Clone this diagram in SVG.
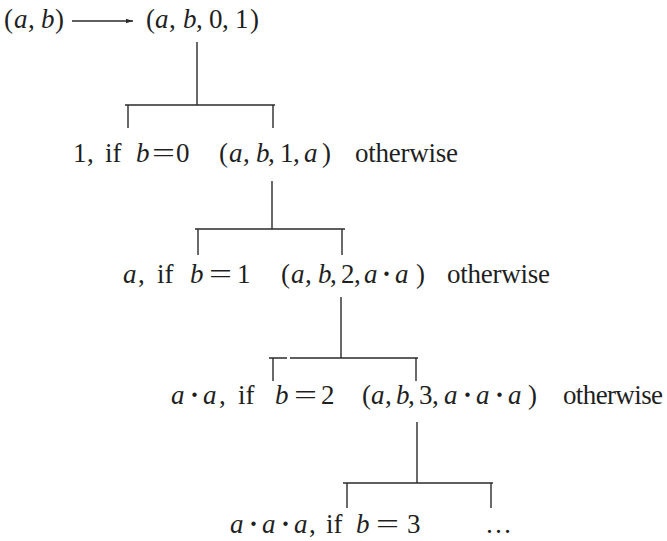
<svg xmlns="http://www.w3.org/2000/svg" width="667" height="541" viewBox="0 0 667 541">
<style>
.t{font-family:"Liberation Serif",Tinos,"Times New Roman","DejaVu Serif",serif;font-size:27px;fill:#1f1f1f}
.i{font-style:italic}
.d{font-weight:bold}
.c{stroke:#2b2b2b;stroke-width:1.4;fill:none}
</style>
<defs>
<marker id="ah" markerWidth="8" markerHeight="6" refX="7" refY="3" orient="auto" markerUnits="userSpaceOnUse">
<path d="M0,0.8 L7,3 L0,5.2 Z" fill="#2b2b2b"/>
</marker>
</defs>
<rect width="667" height="541" fill="#ffffff"/>
<g id="connectors">
<line class="c" x1="72" y1="21" x2="133" y2="21" marker-end="url(#ah)"/>
<path class="c" d="M197,42 V105 M125,105 H275 M128,105 V128 M273,105 V128"/>
<path class="c" d="M272,181 V229 M195,229 H345 M198,229 V255 M342,229 V255"/>
<path class="c" d="M341,297 V358 M269,358 H287 M290,358 H418 M273,358 V381 M416,358 V381"/>
<path class="c" d="M417,422 V483 M343,483 H493 M347,483 V508 M491,483 V508"/>
</g>
<g id="n0"><text class="t" y="28"><tspan x="4">(</tspan><tspan x="14" class="i">a</tspan><tspan x="28">,</tspan><tspan x="41" class="i">b</tspan><tspan x="55">)</tspan></text></g>
<g id="n1"><text class="t" y="28"><tspan x="146">(</tspan><tspan x="155" class="i">a</tspan><tspan x="169">,</tspan><tspan x="183" class="i">b</tspan><tspan x="196">,</tspan><tspan x="209">0</tspan><tspan x="222">,</tspan><tspan x="235">1</tspan><tspan x="250">)</tspan></text></g>
<g id="n2"><text class="t" y="162"><tspan x="73">1</tspan><tspan x="87">,</tspan><tspan x="105">if</tspan><tspan x="136" class="i">b</tspan><tspan x="152" textLength="23" lengthAdjust="spacingAndGlyphs">=</tspan><tspan x="176">0</tspan></text></g>
<g id="n3"><text class="t" y="162"><tspan x="219">(</tspan><tspan x="229" class="i">a</tspan><tspan x="243">,</tspan><tspan x="256" class="i">b</tspan><tspan x="268">,</tspan><tspan x="280">1</tspan><tspan x="293">,</tspan><tspan x="304" class="i">a</tspan><tspan x="322">)</tspan><tspan x="355" textLength="103" lengthAdjust="spacing">otherwise</tspan></text></g>
<g id="n4"><text class="t" y="283"><tspan x="123" class="i">a</tspan><tspan x="138">,</tspan><tspan x="157">if</tspan><tspan x="190" class="i">b</tspan><tspan x="209" textLength="23" lengthAdjust="spacingAndGlyphs">=</tspan><tspan x="237">1</tspan></text></g>
<g id="n5"><text class="t" y="283"><tspan x="281">(</tspan><tspan x="291" class="i">a</tspan><tspan x="305">,</tspan><tspan x="318" class="i">b</tspan><tspan x="330">,</tspan><tspan x="341">2</tspan><tspan x="354">,</tspan><tspan x="364" class="i">a</tspan><tspan x="382" class="d">·</tspan><tspan x="395" class="i">a</tspan><tspan x="416">)</tspan><tspan x="447" textLength="103" lengthAdjust="spacing">otherwise</tspan></text></g>
<g id="n6"><text class="t" y="404"><tspan x="171" class="i">a</tspan><tspan x="190" class="d">·</tspan><tspan x="203" class="i">a</tspan><tspan x="219">,</tspan><tspan x="238">if</tspan><tspan x="275" class="i">b</tspan><tspan x="294" textLength="23" lengthAdjust="spacingAndGlyphs">=</tspan><tspan x="321">2</tspan></text></g>
<g id="n7"><text class="t" y="404"><tspan x="362">(</tspan><tspan x="371" class="i">a</tspan><tspan x="385">,</tspan><tspan x="396" class="i">b</tspan><tspan x="408">,</tspan><tspan x="419">3</tspan><tspan x="432">,</tspan><tspan x="444" class="i">a</tspan><tspan x="463" class="d">·</tspan><tspan x="476" class="i">a</tspan><tspan x="495" class="d">·</tspan><tspan x="508" class="i">a</tspan><tspan x="528">)</tspan><tspan x="563" textLength="100" lengthAdjust="spacing">otherwise</tspan></text></g>
<g id="n8"><text class="t" y="533"><tspan x="230" class="i">a</tspan><tspan x="249" class="d">·</tspan><tspan x="262" class="i">a</tspan><tspan x="281" class="d">·</tspan><tspan x="294" class="i">a</tspan><tspan x="309">,</tspan><tspan x="326">if</tspan><tspan x="356" class="i">b</tspan><tspan x="376" textLength="23" lengthAdjust="spacingAndGlyphs">=</tspan><tspan x="407">3</tspan></text></g>
<g id="n9"><text class="t" y="533"><tspan x="485">…</tspan></text></g>
</svg>
